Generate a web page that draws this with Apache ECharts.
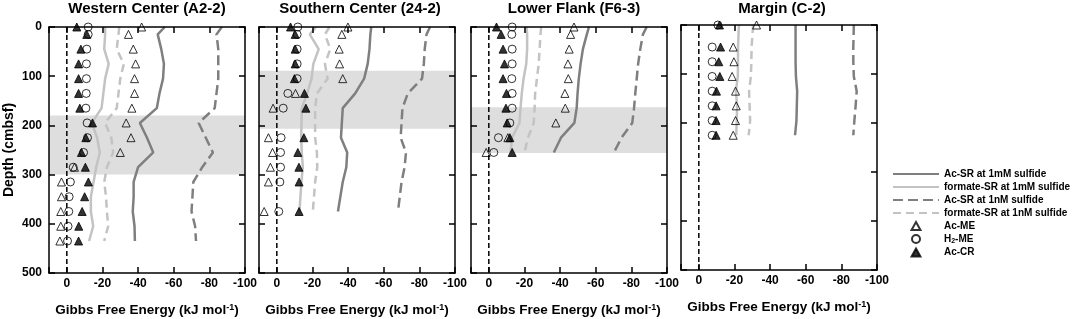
<!DOCTYPE html>
<html>
<head>
<meta charset="utf-8">
<script src="https://cdn.jsdelivr.net/npm/echarts@6/dist/echarts.min.js"></script>
<style>
  html, body { margin: 0; padding: 0; background: #fff; }
  #chart { width: 1072px; height: 319px; }
</style>
</head>
<body>
<div id="chart"></div>
<script>
// panel titles
var titles = ['Western Center (A2-2)', 'Southern Center (24-2)', 'Lower Flank (F6-3)', 'Margin (C-2)'];
var xTicks = [0, -20, -40, -60, -80, -100];
var depthTicks = [0, 100, 200, 300, 400, 500];

// Western Center
var depthW = [0, 15, 45, 75, 105, 135, 165, 195, 225, 255, 285, 315, 345, 375, 405, 435];
var acSR1mM_W = [-55, -51, -53, -54.5, -54, -52, -50.5, -41, -45, -48.5, -40, -37.5, -37.5, -37, -38, -38.2];
var formSR1mM_W = [-21.5, -21.5, -21, -23.5, -21.5, -20.5, -19.5, -14, -17, -18.5, -16.5, -15, -13.5, -13.5, -14.8, -12.5];
var acSR1nM_W = [-87, -84, -85, -85, -85, -84, -83, -74, -78, -82, -76, -71, -70.5, -70, -72, -72.5];
var formSR1nM_W = [-29.4, -29, -28, -32, -30, -29, -28, -21.5, -25, -26, -22.5, -21, -22, -22.5, -23.2, -21];
var acME_W = [-42, -34.6, -37.3, -38.6, -38, -38, -36.5, -33.3, -36, -30, -4.3, 3, 3, 3.4, 3.4, 3.9];
var h2ME_W = [-12, -12, -11.2, -11, -11, -10.9, -10.7, -11.4, -11.6, -9.4, -3.6, -2, -1.3, -1.1, -0.7, -0.4];
var acCR_W = [-5.6, -11.2, -7.9, -6.6, -6.6, -6.6, -7.3, -14.4, -10.7, -8.2, -10.4, -12.1, -10, -8.6, -6.7, -6.6];
var bandW = [180, 300];

// Southern Center
var depthS = [0, 15, 45, 75, 105, 135, 165, 225, 255, 285, 315, 375];
var acSR1mM_S = [-53, -52.5, -52, -51, -49, -44, -37, -36, -39.5, -39, -37, -34.3];
var formSR1mM_S = [-22, -18.5, -23.5, -20.5, -19.5, -17, -14, -13.7, -14, -14.6, -13.8, -12.7];
var acSR1nM_S = [-86, -84, -83, -82.5, -81.5, -73.5, -70.5, -69.5, -72.5, -71.7, -70, -68];
var formSR1nM_S = [-29.6, -27, -30, -27, -28.5, -22.5, -21.5, -21.5, -22.5, -22.7, -21.5, -20.2];
var acME_S = [-39.9, -36.5, -35, -35.2, -37, -10.5, 2.1, 4.7, 2.4, 3.6, 4.7, 7.1];
var h2ME_S = [-11.8, -11.4, -11.4, -11.4, -11.4, -6.2, -3.6, -2.4, -2.1, -2.1, -1.7, -1.1];
var acCR_S = [-7.7, -10.3, -10.3, -10.3, -9.9, -15.5, -16.3, -15.2, -11.8, -12.4, -12.5, -12.5];
var bandS = [89, 207];

// Lower Flank
var depthF = [0, 15, 45, 75, 105, 135, 165, 195, 225, 255];
var acSR1mM_F = [-56.2, -55, -52.8, -51.5, -50.5, -49.8, -49.3, -48, -40.5, -36.5];
var formSR1mM_F = [-21.2, -21.5, -21.5, -21, -19.5, -18.5, -17.8, -17.2, -13, -12.2];
var acSR1nM_F = [-88.6, -86.5, -85, -83.8, -83, -82.2, -81.5, -80.5, -74.5, -70.2];
var formSR1nM_F = [-29.4, -29, -28.5, -28, -27, -26, -25.7, -25.2, -22, -20];
var acME_F = [-47.8, -45.9, -45.1, -44.4, -44.6, -42.7, -42.9, -37.6, -10.7, 1.5];
var h2ME_F = [-13.1, -12.9, -13.1, -13.1, -12.9, -13.1, -13.1, -11.8, -5.4, -2.8];
var acCR_F = [-4.3, -6.9, -8, -8.8, -8, -9.9, -9.6, -10.3, -11.8, -13.1];
var bandF = [163, 256];

// Margin
var depthM = [0, 45, 75, 105, 135, 165, 195, 225];
var acSR1mM_M = [-54.3, -54.3, -54.3, -54.5, -55.2, -55, -54.8, -54];
var formSR1mM_M = [-22.5, -22, -22, -21.9, -20.8, -21.5, -21.3, -21];
var acSR1nM_M = [-87, -86.7, -86.7, -87, -88.6, -88, -87.3, -86.7];
var formSR1nM_M = [-30.5, -29.6, -29.5, -29.2, -28.2, -28.5, -28.8, -28];
var acME_M = [-32.4, -19.3, -19.7, -18.7, -20.6, -21, -20.6, -19.3];
var h2ME_M = [-10.7, -7.5, -7.5, -7.5, -7.5, -7.5, -7.5, -7.5];
var acCR_M = [-11.6, -12.2, -11.2, -11.8, -9.9, -9.7, -9.7, -9.7];

var names = ['Ac-SR at 1mM sulfide', 'formate-SR at 1mM sulfide', 'Ac-SR at 1nM sulfide',
             'formate-SR at 1nM sulfide', 'Ac-ME', 'H2-ME', 'Ac-CR'];

var panels = [
  { depth: depthW, lines: [acSR1mM_W, formSR1mM_W, acSR1nM_W, formSR1nM_W], pts: [acME_W, h2ME_W, acCR_W], band: bandW },
  { depth: depthS, lines: [acSR1mM_S, formSR1mM_S, acSR1nM_S, formSR1nM_S], pts: [acME_S, h2ME_S, acCR_S], band: bandS },
  { depth: depthF, lines: [acSR1mM_F, formSR1mM_F, acSR1nM_F, formSR1nM_F], pts: [acME_F, h2ME_F, acCR_F], band: bandF },
  { depth: depthM, lines: [acSR1mM_M, formSR1mM_M, acSR1nM_M, formSR1nM_M], pts: [acME_M, h2ME_M, acCR_M], band: null }
];

var font = 'Arial, "Liberation Sans", sans-serif';
var gridPos = [
  { left: 49, top: 27, width: 196, height: 246 },
  { left: 259, top: 27, width: 196, height: 246 },
  { left: 471, top: 27, width: 196, height: 246 },
  { left: 681, top: 25, width: 196, height: 245 }
];
var titleX = [147, 360, 574, 782];

var lineStyles = [
  { color: '#7f7f7f', width: 2.5, type: 'solid' },
  { color: '#c3c3c3', width: 2.5, type: 'solid' },
  { color: '#7f7f7f', width: 2.5, type: [10, 5] },
  { color: '#c3c3c3', width: 2.5, type: [8, 5] }
];
var triPath = 'path://M5,0L10,9L0,9Z';
var ptStyles = [
  { symbol: 'triangle', color: 'rgba(0,0,0,0)', icon: triPath },
  { symbol: 'circle', color: 'rgba(0,0,0,0)', icon: 'circle' },
  { symbol: 'triangle', color: '#000', icon: triPath }
];

function zip(vals, depth) {
  return vals.map(function (v, i) { return [v, depth[i]]; });
}

var chart = echarts.init(document.getElementById('chart'), null, { renderer: 'canvas' });

var grids = [], xAxes = [], yAxes = [], series = [], title = [];
panels.forEach(function (p, i) {
  var g = gridPos[i];
  grids.push({ left: g.left, top: g.top, width: g.width, height: g.height, outerBoundsMode: 'none', containLabel: false });
  title.push({
    text: titles[i], left: titleX[i], top: 1, padding: 0, textAlign: 'center',
    textStyle: { fontSize: 15, fontWeight: 'bold', color: '#000', fontFamily: font }
  });
  var axLine = { show: true, onZero: false, lineStyle: { color: '#000', width: 1.5 } };
  var tick = { show: true, inside: true, length: 6, lineStyle: { color: '#000', width: 1.5 } };
  xAxes.push({
    gridIndex: i, type: 'value', inverse: true, min: -100, max: 10, interval: 20,
    position: 'bottom', z: 4, axisLine: axLine, axisTick: tick, splitLine: { show: false },
    axisLabel: {
      margin: 5, fontSize: 12, fontWeight: 'bold', color: '#000', fontFamily: font,
      formatter: function (v) { return xTicks.indexOf(v) >= 0 ? String(v) : ''; }
    },
    name: 'Gibbs Free Energy (kJ mol{sup|-1})', nameLocation: 'middle', nameGap: 30,
    nameTextStyle: {
      fontSize: 13.5, fontWeight: 'bold', color: '#000', fontFamily: font,
      rich: { sup: { fontSize: 9, fontWeight: 'bold', color: '#000', fontFamily: font, verticalAlign: 'top', padding: [0, 0, 6, 0] } }
    }
  });
  xAxes.push({
    gridIndex: i, type: 'value', inverse: true, min: -100, max: 10, interval: 20,
    position: 'top', z: 4, axisLine: axLine, axisTick: tick, splitLine: { show: false },
    axisLabel: { show: false }
  });
  yAxes.push({
    gridIndex: i, type: 'value', inverse: true, min: 0, max: 500, interval: 100,
    position: 'left', z: 4, axisLine: axLine, axisTick: tick, splitLine: { show: false },
    axisLabel: {
      show: i === 0, margin: 7, fontSize: 12, fontWeight: 'bold', color: '#000', fontFamily: font,
      formatter: function (v) { return depthTicks.indexOf(v) >= 0 ? String(v) : ''; }
    },
    name: i === 0 ? 'Depth (cmbsf)' : '', nameLocation: 'middle', nameGap: 33,
    nameTextStyle: { fontSize: 14, fontWeight: 'bold', color: '#000', fontFamily: font }
  });
  yAxes.push({
    gridIndex: i, type: 'value', inverse: true, min: 0, max: 500, interval: 100,
    position: 'right', z: 4, axisLine: axLine, axisTick: tick, splitLine: { show: false },
    axisLabel: { show: false }
  });

  var xi = 2 * i, yi = 2 * i;
  // zero line + shaded band
  var zero = {
    type: 'line', name: 'zero' + i, xAxisIndex: xi, yAxisIndex: yi,
    data: [[0, depthTicks[0]], [0, depthTicks[depthTicks.length - 1]]],
    symbol: 'none', silent: true, z: 2,
    lineStyle: { color: '#000', width: 1.5, type: [5, 3] }
  };
  if (p.band) {
    zero.markArea = {
      silent: true, itemStyle: { color: '#dedede' },
      data: [[{ yAxis: p.band[0] }, { yAxis: p.band[1] }]]
    };
  }
  series.push(zero);

  p.lines.forEach(function (vals, k) {
    series.push({
      type: 'line', name: names[k], xAxisIndex: xi, yAxisIndex: yi,
      data: zip(vals, p.depth), symbol: 'none', z: 2, silent: true,
      lineStyle: lineStyles[k], itemStyle: { color: lineStyles[k].color }
    });
  });
  p.pts.forEach(function (vals, k) {
    series.push({
      type: 'scatter', name: names[4 + k], xAxisIndex: xi, yAxisIndex: yi,
      data: zip(vals, p.depth), symbol: ptStyles[k].symbol, symbolSize: 8, z: 3, silent: true,
      itemStyle: { color: ptStyles[k].color, borderColor: '#000', borderWidth: 1 }
    });
  });
});

var legendData = names.map(function (n, k) {
  if (k < 4) return { name: n, itemStyle: { opacity: 0 } };
  return { name: n, icon: ptStyles[k - 4].icon };
});

chart.setOption({
  animation: false,
  backgroundColor: '#fff',
  title: title,
  grid: grids,
  xAxis: xAxes,
  yAxis: yAxes,
  legend: {
    orient: 'vertical', left: 892, top: 169, padding: 0, itemWidth: 46, itemHeight: 8, itemGap: 3,
    symbolKeepAspect: true, selectedMode: false, data: legendData,
    formatter: function (n) { return n === 'H2-ME' ? 'H{sub|2}-ME' : n; },
    textStyle: {
      fontSize: 10, fontWeight: 'bold', color: '#000', fontFamily: font,
      rich: { sub: { fontSize: 7, fontWeight: 'bold', color: '#000', fontFamily: font, verticalAlign: 'bottom', padding: [4, 0, 0, 0] } }
    }
  },
  series: series
});
</script>
</body>
</html>
